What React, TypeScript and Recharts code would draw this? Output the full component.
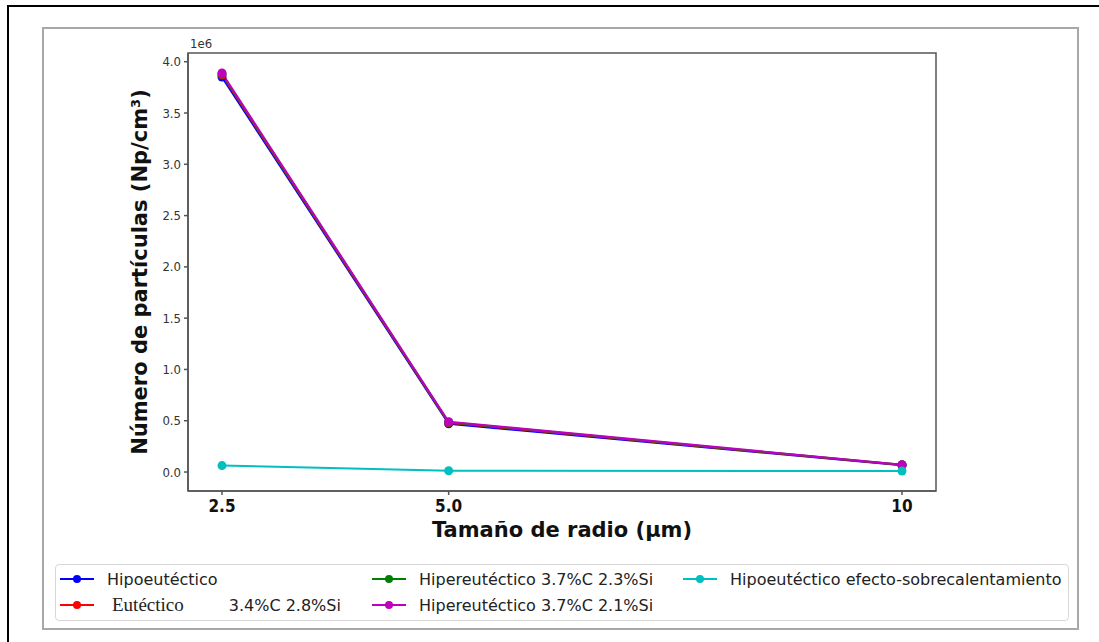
import { LineChart, Line, XAxis, YAxis, ReferenceArea } from 'recharts'

const radios = [2.5, 5, 10]
const xTickLabels = ['2.5', '5.0', '10']
const yTicks = [0, 500000, 1000000, 1500000, 2000000, 2500000, 3000000, 3500000, 4000000]

const hipoeutectico = [3850000, 470000, 65000]
const eutectico = [3870000, 480000, 68000]
const hipereutectico23 = [3880000, 485000, 70000]
const hipereutectico21 = [3890000, 490000, 72000]
const hipoSobrecalentamiento = [63000, 12000, 10000]

const series = [
  { key: 'hipo', name: 'Hipoeutéctico', color: '#0000ff', values: hipoeutectico },
  { key: 'eut', name: 'Eutéctico 3.4%C 2.8%Si', color: '#ff0000', values: eutectico },
  { key: 'hiper23', name: 'Hipereutéctico 3.7%C 2.3%Si', color: '#008000', values: hipereutectico23 },
  { key: 'hiper21', name: 'Hipereutéctico 3.7%C 2.1%Si', color: '#bf00bf', values: hipereutectico21 },
  { key: 'sobre', name: 'Hipoeutéctico efecto-sobrecalentamiento', color: '#00bfbf', values: hipoSobrecalentamiento },
]

const data = radios.map((r, i) => {
  const row: Record<string, number> = { radio: r }
  series.forEach(s => { row[s.key] = s.values[i] })
  return row
})

const FONT = '"DejaVu Sans", sans-serif'
const TICK_FONT = '"DejaVu Sans Condensed", "DejaVu Sans", sans-serif'
const xDomain = [2.125, 10.375]
const yDomain = [-185000, 4085000]

function LegendLabel({ name }: { name: string }) {
  // the original legend renders "Eutéctico" in a serif face with a wide gap
  if (name.startsWith('Eutéctico')) {
    const rest = name.replace('Eutéctico', '').trim()
    return (
      <span>
        <span style={{ fontFamily: '"Liberation Serif", serif', fontSize: 19, marginLeft: 5 }}>Eutéctico</span>
        <span style={{ marginLeft: 45 }}>{rest}</span>
      </span>
    )
  }
  return <span>{name}</span>
}

function ChartLegend() {
  return (
    <div style={{
      position: 'absolute', left: 55, top: 564, width: 1014, height: 57,
      border: '1px solid #d8d8d8', borderRadius: 4, boxSizing: 'border-box',
      display: 'grid', gridTemplateRows: '26px 26px', gridAutoFlow: 'column',
      gridTemplateColumns: '312px 311px auto', paddingTop: 1, paddingLeft: 4,
      fontFamily: FONT, fontSize: 16, color: '#222',
    }}>
      {series.map(s => (
        <div key={s.key} style={{ display: 'flex', alignItems: 'center', whiteSpace: 'nowrap' }}>
          <svg width={34} height={12} style={{ marginRight: 13, flex: 'none' }}>
            <line x1={0} y1={6} x2={34} y2={6} stroke={s.color} strokeWidth={2} />
            <circle cx={17} cy={6} r={4} fill={s.color} />
          </svg>
          <LegendLabel name={s.name} />
        </div>
      ))}
    </div>
  )
}

export default function App() {
  return (
    <div style={{ position: 'absolute', left: 0, top: 0, width: 1099, height: 642, background: '#fff', overflow: 'hidden' }}>
      <div style={{ position: 'absolute', left: 7, top: 5, width: 1200, height: 700, borderLeft: '2px solid #000', borderTop: '2px solid #000' }} />
      <div style={{ position: 'absolute', left: 42, top: 27, width: 1037, height: 603, border: '2px solid #a8a8a8', boxSizing: 'border-box' }} />
      <div style={{ position: 'absolute', left: 0, top: 0 }}>
        <LineChart width={1099} height={642} data={data} margin={{ top: 53, right: 163, bottom: 0, left: 0 }}>
          <XAxis
            dataKey="radio"
            type="number"
            domain={xDomain}
            allowDataOverflow
            ticks={radios}
            tickFormatter={(v: number) => xTickLabels[radios.indexOf(v)] ?? String(v)}
            height={151}
            tickSize={4}
            tickMargin={5}
            stroke="#555"
            strokeWidth={1.5}
            tick={{ fill: '#111', fontSize: 17, fontWeight: 'bold', fontFamily: TICK_FONT }}
            label={{ value: 'Tamaño de radio (µm)', position: 'insideTop', offset: 31, fill: '#111', fontSize: 21, fontWeight: 'bold', fontFamily: FONT }}
          />
          <YAxis
            type="number"
            domain={yDomain}
            allowDataOverflow
            ticks={yTicks}
            tickFormatter={(v: number) => (v / 1e6).toFixed(1)}
            width={188}
            tickSize={4}
            tickMargin={3}
            stroke="#555"
            strokeWidth={1.5}
            tick={{ fill: '#333', fontSize: 13, fontFamily: TICK_FONT }}
            label={{ value: 'Número de partículas (Np/cm³)', angle: -90, position: 'insideLeft', offset: 140, fill: '#111', fontSize: 21, fontWeight: 'bold', fontFamily: FONT, style: { textAnchor: 'middle' } }}
          />
          <ReferenceArea x1={xDomain[0]} x2={xDomain[1]} y1={yDomain[0]} y2={yDomain[1]} fill="none" stroke="#555" strokeWidth={1.5} ifOverflow="visible" />
          {series.map(s => (
            <Line
              key={s.key}
              dataKey={s.key}
              name={s.name}
              stroke={s.color}
              strokeWidth={2}
              dot={{ r: 4.5, fill: s.color, stroke: s.color, strokeWidth: 0 }}
              activeDot={false}
              isAnimationActive={false}
            />
          ))}
        </LineChart>
      </div>
      <span style={{ position: 'absolute', left: 190, top: 36, fontFamily: TICK_FONT, fontSize: 13, color: '#333' }}>1e6</span>
      <ChartLegend />
    </div>
  )
}
